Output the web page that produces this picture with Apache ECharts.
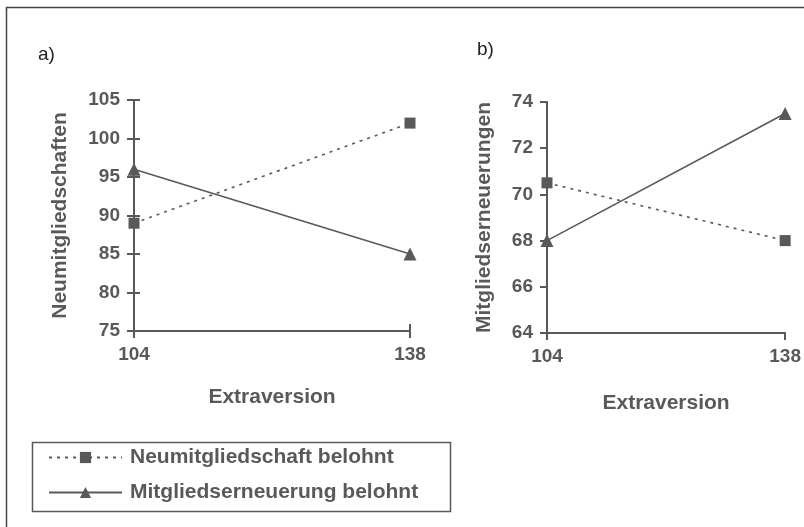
<!DOCTYPE html>
<html><head><meta charset="utf-8">
<script src="https://cdn.jsdelivr.net/npm/echarts@6/dist/echarts.min.js"></script>
<style>html,body{margin:0;padding:0;background:#fff}#c{width:804px;height:527px}</style>
</head><body><div id="c"></div>
<script>
const categories = ['104', '138'];
const seriesNames = ['Neumitgliedschaft belohnt', 'Mitgliedserneuerung belohnt'];
const aNeumitglied = [89, 102];
const aErneuerung = [96, 85];
const bNeumitglied = [70.5, 68];
const bErneuerung = [68, 73.5];
const aTicks = { min: 75, max: 105, interval: 5 };
const bTicks = { min: 64, max: 74, interval: 2 };
const aYName = 'Neumitgliedschaften';
const bYName = 'Mitgliedserneuerungen';
const xName = 'Extraversion';

const GRAY = '#595959';
const FONT = 'Liberation Sans, Arial, sans-serif';
const lbl = { color: GRAY, fontFamily: FONT, fontWeight: 'bold', fontSize: 19 };
const nameLbl = { color: GRAY, fontFamily: FONT, fontWeight: 'bold', fontSize: 21 };
const axisLine = { show: true, lineStyle: { color: GRAY, width: 2 } };

function xAx(grid, gap, ticksInside) {
  return {
    type: 'category', gridIndex: grid, data: categories, boundaryGap: false,
    axisLine: axisLine,
    axisTick: { show: true, length: 7, inside: !!ticksInside, lineStyle: { color: GRAY, width: 2 } },
    axisLabel: Object.assign({ margin: 14 }, lbl),
    name: xName, nameLocation: 'middle', nameGap: gap, nameTextStyle: nameLbl
  };
}
function yAx(grid, t, name, gap) {
  return {
    type: 'value', gridIndex: grid, min: t.min, max: t.max, interval: t.interval, position: 'left',
    splitLine: { show: false }, axisLine: axisLine,
    axisTick: { show: true, length: 7, lineStyle: { color: GRAY, width: 2 } },
    axisLabel: Object.assign({ margin: 14 }, lbl),
    name: name, nameLocation: 'middle', nameRotate: 90, nameGap: gap, nameTextStyle: nameLbl
  };
}
function line(name, xi, yi, data, dotted, sym, size) {
  return {
    type: 'line', name: name, xAxisIndex: xi, yAxisIndex: yi, data: data,
    symbol: sym, symbolSize: size, showSymbol: true,
    itemStyle: { color: GRAY },
    lineStyle: { color: GRAY, width: 1.6, type: dotted ? [3, 5] : 'solid' },
    emphasis: { disabled: true }, animation: false
  };
}

const chart = echarts.init(document.getElementById('c'), null, { renderer: 'canvas' });
chart.setOption({
  animation: false,
  backgroundColor: '#fff',
  grid: [
    { left: 134, right: 394, top: 100, bottom: 196 },
    { left: 547, right: 14, top: 102, bottom: 194 }
  ],
  xAxis: [
    xAx(0, 56, false),
    xAx(1, 60, false),
    Object.assign(xAx(0, 56, true), { axisLabel: { show: false }, name: '', axisLine: { show: false }, position: 'bottom' })
  ],
  yAxis: [
    yAx(0, aTicks, aYName, 63),
    yAx(1, bTicks, bYName, 52),
    Object.assign(yAx(0, aTicks, '', 0), { axisLabel: { show: false }, axisLine: { show: false }, axisTick: { show: true, inside: true, length: 6, lineStyle: { color: GRAY, width: 2 } } })
  ],
  legend: {
    left: 48, top: 447, orient: 'vertical', itemWidth: 73, itemHeight: 14, itemGap: 14,
    padding: 0, data: seriesNames,
    textStyle: Object.assign({}, nameLbl, { padding: [0, 0, 0, 3] })
  },
  graphic: [
    { type: 'rect', shape: { x: 6.5, y: 7.5, width: 1000, height: 1000 }, style: { fill: 'none', stroke: '#444', lineWidth: 1.5 }, silent: true },
    { type: 'rect', shape: { x: 32.5, y: 442.5, width: 418, height: 69 }, style: { fill: 'none', stroke: GRAY, lineWidth: 1.5 }, silent: true },
    { type: 'text', left: 38, top: 45, style: { text: 'a)', font: '19px Liberation Sans, Arial, sans-serif', fill: '#222' } },
    { type: 'text', left: 477, top: 40, style: { text: 'b)', font: '19px Liberation Sans, Arial, sans-serif', fill: '#222' } }
  ],
  series: [
    line(seriesNames[0], 0, 0, aNeumitglied, true, 'rect', 11),
    line(seriesNames[1], 0, 0, aErneuerung, false, 'triangle', 13),
    line(seriesNames[0], 1, 1, bNeumitglied, true, 'rect', 11),
    line(seriesNames[1], 1, 1, bErneuerung, false, 'triangle', 13)
  ]
});
</script></body></html>
